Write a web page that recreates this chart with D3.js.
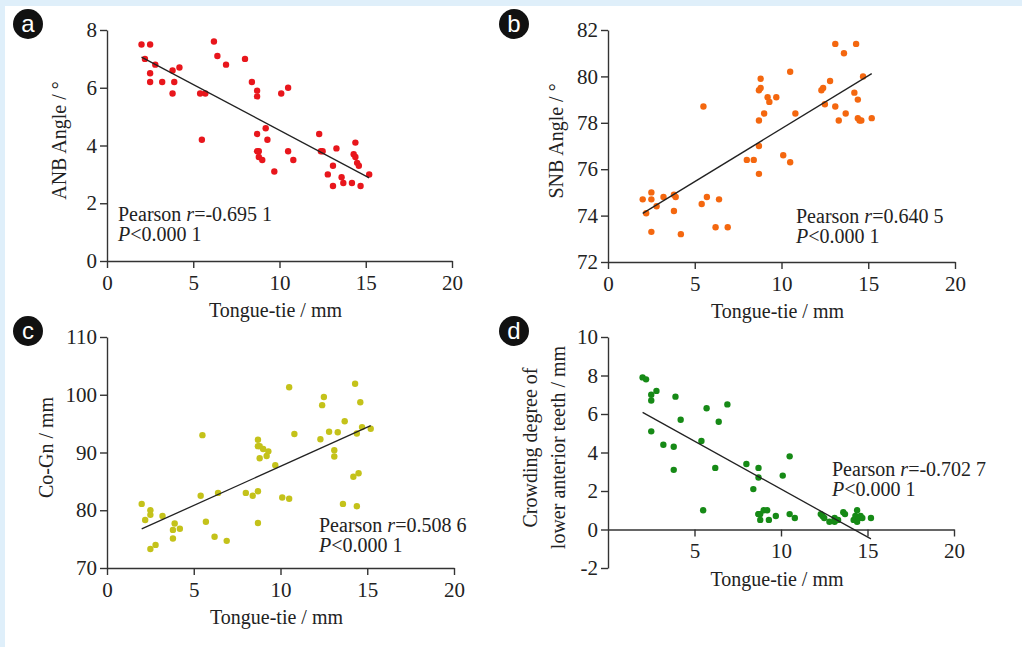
<!DOCTYPE html>
<html>
<head>
<meta charset="utf-8">
<script src="https://cdn.jsdelivr.net/npm/d3@7"></script>
<style>
  body { margin: 0; background: #fff; }
  svg { display: block; }
  .tick text { font-family: "Liberation Serif", "DejaVu Serif", serif; font-size: 21px; fill: #222; }
  .tick line, .domain { stroke: #333; stroke-width: 1.4; }
  .title, .stat { font-family: "Liberation Serif", "DejaVu Serif", serif; font-size: 20px; fill: #222; }
  .badge text { font-family: "Liberation Sans", Arial, sans-serif; font-size: 24px; fill: #fff; }
</style>
</head>
<body>
<script>
// tongue-tie length (mm), same 50 subjects in every panel
const tongueTie = [2.0, 2.2, 2.5, 2.5, 2.5, 2.8, 3.2, 3.8, 3.8, 3.9,
  4.2, 5.4, 5.5, 5.7, 6.2, 6.4, 6.9, 8.0, 8.4, 8.7,
  8.7, 8.7, 8.7, 8.8, 8.8, 9.0, 9.2, 9.3, 9.7, 10.1,
  10.5, 10.5, 10.8, 12.3, 12.4, 12.5, 12.8, 13.1, 13.1, 13.3,
  13.6, 13.7, 14.2, 14.3, 14.4, 14.4, 14.5, 14.6, 14.7, 15.2];

const anbAngle = [7.5, 7.0, 7.5, 6.5, 6.2, 6.8, 6.2, 6.6, 5.8, 6.2,
  6.7, 5.8, 4.2, 5.8, 7.6, 7.1, 6.8, 7.0, 6.2, 5.9,
  5.7, 4.4, 3.8, 3.8, 3.6, 3.5, 4.6, 4.2, 3.1, 5.8,
  6.0, 3.8, 3.5, 4.4, 3.8, 3.8, 3.0, 3.3, 2.6, 3.9,
  2.9, 2.7, 2.7, 3.7, 4.1, 3.6, 3.4, 3.3, 2.6, 3.0];

const snbAngle = [74.7, 74.1, 75.0, 74.7, 73.3, 74.4, 74.8, 74.9, 74.2, 74.8,
  73.2, 74.5, 78.7, 74.8, 73.5, 74.7, 73.5, 76.4, 76.4, 79.4,
  78.1, 77.0, 75.8, 79.9, 79.5, 78.4, 79.1, 78.9, 79.1, 76.6,
  80.2, 76.3, 78.4, 79.4, 79.5, 78.8, 79.8, 81.4, 78.7, 78.1,
  81.0, 78.4, 79.3, 81.4, 79.0, 78.2, 78.1, 78.1, 80.0, 78.2];

const coGn = [81.1, 78.3, 80.0, 79.2, 73.3, 74.0, 79.0, 76.6, 75.1, 77.7,
  76.8, 82.5, 93.0, 78.0, 75.4, 83.0, 74.7, 83.0, 82.5, 83.3,
  77.8, 92.2, 91.1, 91.1, 89.0, 90.6, 89.4, 90.2, 87.8, 82.2,
  101.3, 82.0, 93.2, 92.3, 98.2, 99.6, 93.6, 90.4, 89.3, 93.5,
  81.1, 95.4, 85.8, 101.9, 93.3, 80.7, 86.4, 98.7, 94.4, 94.1];

const crowding = [7.9, 7.8, 7.0, 6.7, 5.1, 7.2, 4.4, 4.3, 3.1, 6.9,
  5.7, 4.6, 1.0, 6.3, 3.2, 5.6, 6.5, 3.4, 2.1, 3.2,
  2.7, 0.8, 0.8, 0.8, 0.5, 1.0, 1.0, 0.5, 0.7, 2.8,
  3.8, 0.8, 0.6, 0.8, 0.7, 0.6, 0.4, 0.6, 0.4, 0.5,
  0.9, 0.8, 0.5, 0.7, 1.0, 0.4, 0.6, 0.7, 0.6, 0.6];

const pearsonR = ['-0.695 1', '0.640 5', '0.508 6', '-0.702 7'];
const pText = '<0.000 1';
const xTicks = [0, 5, 10, 15, 20];

const width = 1022;
const height = 647;

const panels = [
  { key: 'a', ys: anbAngle, color: '#e8161c', domain: [0, 8], yTicks: [0, 2, 4, 6, 8],
    x0: 107, x1: 452, top: 30, bottom: 261, badge: [28, 24],
    ytitle: ['ANB Angle / °'], ytx: 66, stat: [118, 221] },
  { key: 'b', ys: snbAngle, color: '#f4670f', domain: [72, 82], yTicks: [72, 74, 76, 78, 80, 82],
    x0: 608, x1: 955, top: 30, bottom: 262, badge: [514, 24],
    ytitle: ['SNB Angle / °'], ytx: 563, stat: [796, 223] },
  { key: 'c', ys: coGn, color: '#c4c21a', domain: [70, 110], yTicks: [70, 80, 90, 100, 110],
    x0: 107, x1: 454, top: 337, bottom: 568, badge: [28, 331],
    ytitle: ['Co-Gn / mm'], ytx: 53, stat: [319, 532] },
  { key: 'd', ys: crowding, color: '#168a16', domain: [-2, 10], yTicks: [-2, 0, 2, 4, 6, 8, 10],
    x0: 608, x1: 954, top: 337, bottom: 568, badge: [514, 331],
    ytitle: ['Crowding degree of', 'lower anterior teeth / mm'], ytx: 537, stat: [832, 476], axisAtZero: true }
];

const fit = (xs, ys) => {
  const mx = d3.mean(xs), my = d3.mean(ys);
  const b = d3.sum(xs, (x, i) => (x - mx) * (ys[i] - my)) / d3.sum(xs, x => (x - mx) ** 2);
  return x => my + b * (x - mx);
};

// plain hyphen for negatives, like the original figure
const plain = d => String(d);

const svg = d3.select('body').append('svg')
  .attr('width', width)
  .attr('height', height);

svg.append('rect').attr('width', width).attr('height', height).attr('fill', '#dfeffa');
svg.append('rect').attr('x', 5).attr('y', 6).attr('width', width - 5).attr('height', height - 6).attr('fill', '#fff');

panels.forEach((p, k) => {
  const x = d3.scaleLinear().domain([0, 20]).range([p.x0, p.x1]);
  const y = d3.scaleLinear().domain(p.domain).range([p.bottom, p.top]);
  const g = svg.append('g');
  const axisY = p.axisAtZero ? y(0) : p.bottom;

  g.append('g')
    .attr('transform', `translate(0,${axisY})`)
    .call(d3.axisBottom(x).tickValues(p.axisAtZero ? xTicks.slice(1) : xTicks)
      .tickSize(7).tickSizeOuter(0).tickPadding(7).tickFormat(plain))
    .call(a => a.selectAll('text').attr('font-family', null).attr('font-size', null));

  g.append('g')
    .attr('transform', `translate(${p.x0},0)`)
    .call(d3.axisLeft(y).tickValues(p.yTicks)
      .tickSize(7).tickSizeOuter(0).tickPadding(3).tickFormat(plain))
    .call(a => a.selectAll('text').attr('font-family', null).attr('font-size', null));

  // x title
  g.append('text')
    .attr('class', 'title')
    .attr('x', (p.x0 + p.x1) / 2 - 4)
    .attr('y', axisY + 56)
    .attr('text-anchor', 'middle')
    .text('Tongue-tie / mm');

  // y title (one or two lines)
  const yt = g.append('text')
    .attr('class', 'title')
    .attr('transform', `translate(${p.ytx},${(p.top + p.bottom) / 2 - 5}) rotate(-90)`)
    .attr('text-anchor', 'middle');
  p.ytitle.forEach((line, i) => {
    yt.append('tspan').attr('x', 0).attr('dy', i ? 28 : 0).text(line);
  });

  // points
  g.append('g')
    .selectAll('circle')
    .data(tongueTie)
    .join('circle')
    .attr('cx', d => x(d))
    .attr('cy', (d, i) => y(p.ys[i]))
    .attr('r', 3.2)
    .attr('fill', p.color);

  // regression line
  const f = fit(tongueTie, p.ys);
  const ext = d3.extent(tongueTie);
  g.append('line')
    .attr('x1', x(ext[0])).attr('y1', y(f(ext[0])))
    .attr('x2', x(ext[1])).attr('y2', y(f(ext[1])))
    .attr('stroke', '#222')
    .attr('stroke-width', 1.3);

  // statistics
  const s1 = g.append('text').attr('class', 'stat').attr('x', p.stat[0]).attr('y', p.stat[1]);
  s1.append('tspan').text('Pearson ');
  s1.append('tspan').attr('font-style', 'italic').text('r');
  s1.append('tspan').text('=' + pearsonR[k]);
  const s2 = g.append('text').attr('class', 'stat').attr('x', p.stat[0]).attr('y', p.stat[1] + 20);
  s2.append('tspan').attr('font-style', 'italic').text('P');
  s2.append('tspan').text(pText);

  // panel badge
  const b = g.append('g').attr('class', 'badge').attr('transform', `translate(${p.badge})`);
  b.append('circle').attr('r', 15).attr('fill', '#111');
  b.append('text').attr('text-anchor', 'middle').attr('dy', '0.35em').text(p.key);
});
</script>
</body>
</html>
